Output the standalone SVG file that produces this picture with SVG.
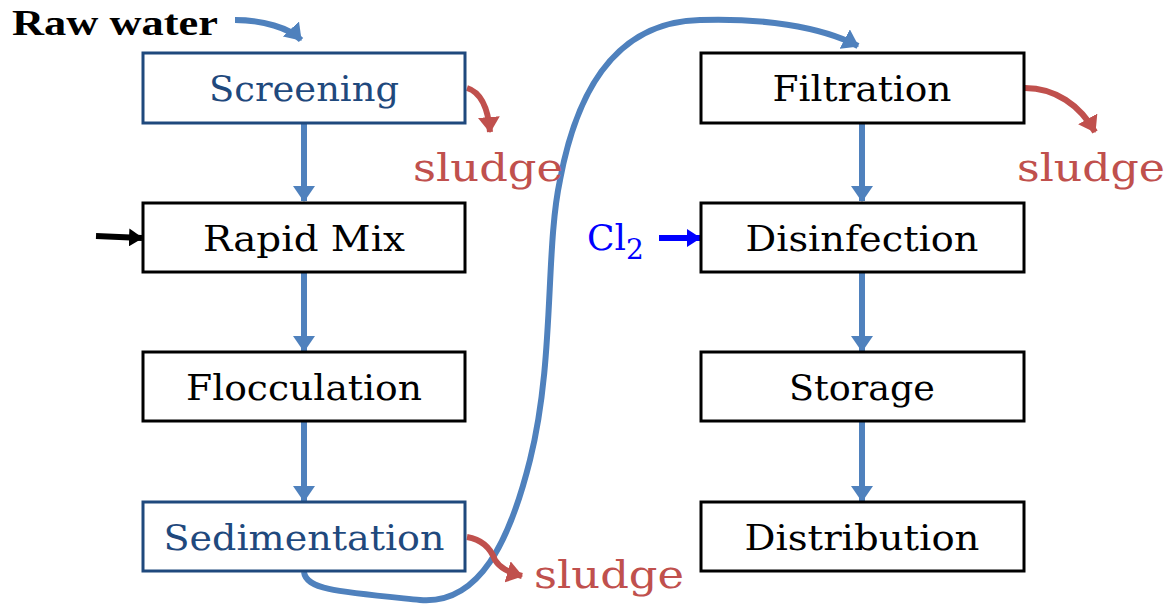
<svg xmlns="http://www.w3.org/2000/svg" width="1175" height="604" viewBox="0 0 1175 604">
<defs>
<style>
.box{fill:#fff;stroke:#000;stroke-width:3}
.boxb{fill:#fff;stroke:#1F497D;stroke-width:3}
.lbl{font-family:"DejaVu Serif","Liberation Serif",serif;font-size:36px;text-anchor:middle;fill:#000}
.lblb{fill:#1F497D}
.sl{font-family:"DejaVu Serif","Liberation Serif",serif;font-size:40px;fill:#C0504D}
.fl{fill:none;stroke:#4F81BD;stroke-width:6}
.rd{fill:none;stroke:#C0504D;stroke-width:6}
</style>
<marker id="ab" markerUnits="userSpaceOnUse" markerWidth="16" markerHeight="22" viewBox="0 0 16 22" refX="15" refY="11" orient="auto"><path d="M0,0 L16,11 L0,22 Z" fill="#4F81BD"/></marker>
<marker id="ar" markerUnits="userSpaceOnUse" markerWidth="16" markerHeight="22" viewBox="0 0 16 22" refX="15" refY="11" orient="auto"><path d="M0,0 L16,11 L0,22 Z" fill="#C0504D"/></marker>
<marker id="ak" markerUnits="userSpaceOnUse" markerWidth="14" markerHeight="18" viewBox="0 0 14 18" refX="13" refY="9" orient="auto"><path d="M0,0 L14,9 L0,18 Z" fill="#000"/></marker>
<marker id="abl" markerUnits="userSpaceOnUse" markerWidth="14" markerHeight="18" viewBox="0 0 14 18" refX="13" refY="9" orient="auto"><path d="M0,0 L14,9 L0,18 Z" fill="#0000FF"/></marker>
</defs>
<rect width="1175" height="604" fill="#fff"/>
<g id="connectors">
<path class="fl" d="M235,20 C262,20 290,28 301,40" marker-end="url(#ab)"/>
<path class="fl" d="M304,124 L304,201" marker-end="url(#ab)"/>
<path class="fl" d="M304,273 L304,351" marker-end="url(#ab)"/>
<path class="fl" d="M304,422 L304,501" marker-end="url(#ab)"/>
<path class="fl" d="M304,572 C306,590 340,592 420,600 C480,605 510,540 530,460 C555,360 545,250 560,180 C575,100 610,22 700,20 C760,18 820,26 858,46" marker-end="url(#ab)"/>
<path class="fl" d="M862,124 L862,201" marker-end="url(#ab)"/>
<path class="fl" d="M862,273 L862,351" marker-end="url(#ab)"/>
<path class="fl" d="M862,422 L862,501" marker-end="url(#ab)"/>
<path class="rd" d="M467,88 C480,92 488,106 490,132" marker-end="url(#ar)"/>
<path class="rd" d="M1025,88 C1055,88 1080,105 1095,132" marker-end="url(#ar)"/>
<path class="rd" d="M467,537 C485,540 492,552 495,560 C500,568 508,572 522,576" marker-end="url(#ar)"/>
<path d="M96,236 L142,238" stroke="#000" stroke-width="6" fill="none" marker-end="url(#ak)"/>
<path d="M659,238 L700,238" stroke="#0000FF" stroke-width="6" fill="none" marker-end="url(#abl)"/>
</g>
<text x="12" y="35" font-family="'Liberation Serif',serif" font-weight="bold" font-size="36" textLength="206" lengthAdjust="spacingAndGlyphs" fill="#000">Raw water</text>
<g id="screening"><rect class="boxb" x="143" y="53" width="322" height="70"/><text class="lbl lblb" x="304" y="101" textLength="190" lengthAdjust="spacingAndGlyphs">Screening</text></g>
<g id="rapidmix"><rect class="box" x="143" y="203" width="322" height="69"/><text class="lbl" x="304" y="251" textLength="202" lengthAdjust="spacingAndGlyphs">Rapid Mix</text></g>
<g id="flocculation"><rect class="box" x="143" y="352" width="322" height="69"/><text class="lbl" x="304" y="400" textLength="236" lengthAdjust="spacingAndGlyphs">Flocculation</text></g>
<g id="sedimentation"><rect class="boxb" x="143" y="502" width="322" height="69"/><text class="lbl lblb" x="304" y="550" textLength="281" lengthAdjust="spacingAndGlyphs">Sedimentation</text></g>
<g id="filtration"><rect class="box" x="701" y="53" width="323" height="70"/><text class="lbl" x="862" y="101" textLength="179" lengthAdjust="spacingAndGlyphs">Filtration</text></g>
<g id="disinfection"><rect class="box" x="701" y="203" width="323" height="69"/><text class="lbl" x="862" y="251" textLength="233" lengthAdjust="spacingAndGlyphs">Disinfection</text></g>
<g id="storage"><rect class="box" x="701" y="352" width="323" height="69"/><text class="lbl" x="862" y="400" textLength="146" lengthAdjust="spacingAndGlyphs">Storage</text></g>
<g id="distribution"><rect class="box" x="701" y="502" width="323" height="69"/><text class="lbl" x="862" y="550" textLength="235" lengthAdjust="spacingAndGlyphs">Distribution</text></g>
<text class="sl" x="413" y="181" textLength="150" lengthAdjust="spacingAndGlyphs">sludge</text>
<text class="sl" x="1017" y="181" textLength="148" lengthAdjust="spacingAndGlyphs">sludge</text>
<text class="sl" x="534" y="588" textLength="150" lengthAdjust="spacingAndGlyphs">sludge</text>
<text x="587" y="250" font-family="'DejaVu Serif','Liberation Serif',serif" font-size="36" fill="#0000FF">Cl<tspan font-size="28" dy="9">2</tspan></text>
</svg>
